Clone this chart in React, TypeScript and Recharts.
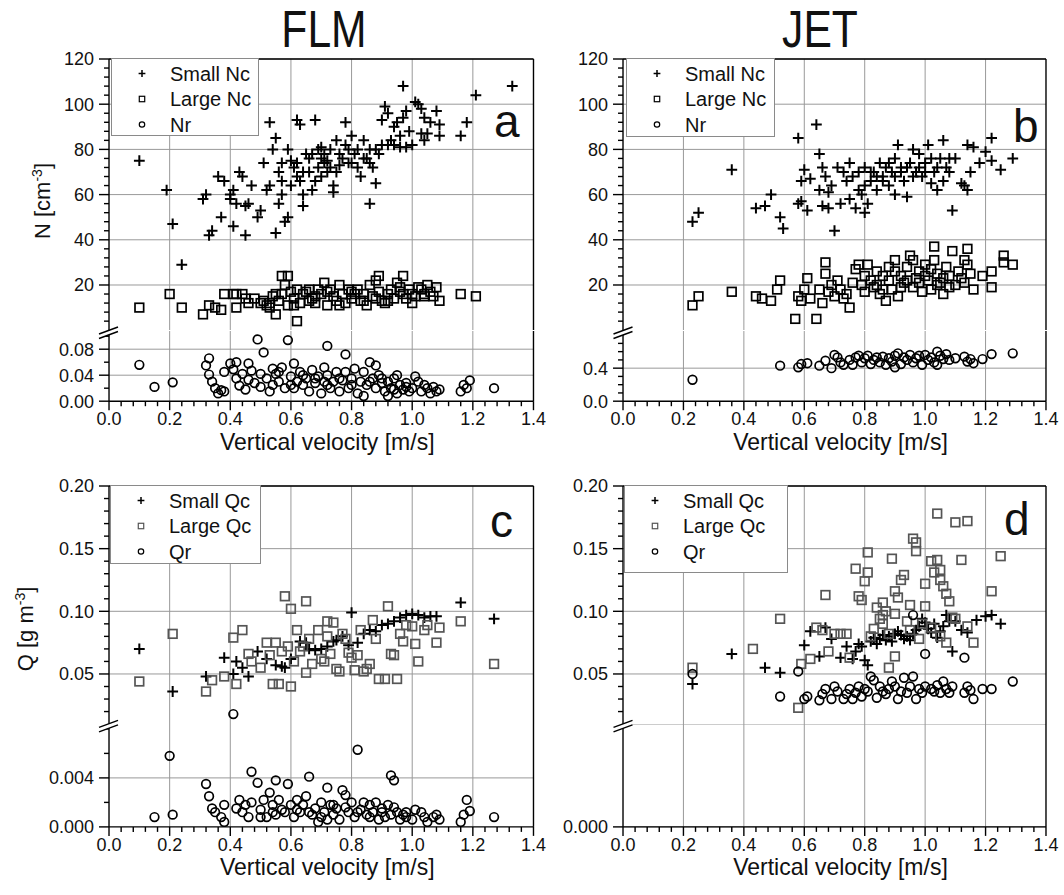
import React from 'react';
import { ScatterChart, Scatter, XAxis, YAxis, CartesianGrid, ReferenceLine, Legend } from 'recharts';

const FONT = '"Liberation Sans", Arial, sans-serif';

// ---------- data: FLM (left column) ----------
const flmSmallNc: [number, number][] = [
  [0.10, 75], [0.19, 62], [0.21, 47], [0.24, 29], [0.31, 58], [0.32, 60], [0.33, 42], [0.34, 44], [0.37, 50],
  [0.36, 68], [0.38, 66], [0.40, 60], [0.41, 62], [0.41, 46], [0.40, 58], [0.42, 56], [0.43, 70], [0.44, 68],
  [0.45, 55], [0.46, 56], [0.47, 64], [0.45, 42], [0.49, 50], [0.50, 53], [0.51, 74], [0.52, 62], [0.53, 64],
  [0.53, 92], [0.54, 80], [0.55, 85], [0.55, 43], [0.56, 56], [0.57, 60], [0.56, 70], [0.57, 74], [0.58, 48],
  [0.59, 50], [0.59, 80], [0.60, 75], [0.61, 72], [0.62, 93], [0.63, 91], [0.62, 68], [0.63, 66], [0.64, 60],
  [0.64, 55], [0.65, 78], [0.66, 76], [0.67, 62], [0.68, 93], [0.68, 66], [0.69, 72], [0.70, 81], [0.71, 78],
  [0.72, 70], [0.72, 75], [0.73, 80], [0.74, 64], [0.74, 61], [0.75, 84], [0.76, 78], [0.77, 76], [0.78, 92],
  [0.79, 80], [0.80, 74], [0.80, 86], [0.81, 78], [0.82, 72], [0.83, 68], [0.84, 84], [0.85, 76], [0.86, 80],
  [0.86, 56], [0.87, 72], [0.88, 65], [0.89, 78], [0.90, 93], [0.91, 99], [0.92, 96], [0.93, 84], [0.94, 90],
  [0.95, 92], [0.96, 86], [0.97, 108], [0.97, 94], [0.98, 97], [0.99, 88], [1.00, 82], [1.01, 101], [1.02, 100],
  [1.03, 98], [1.04, 94], [1.03, 87], [1.04, 84], [1.05, 87], [1.06, 92], [1.08, 97], [1.09, 91], [1.09, 86],
  [1.16, 86], [1.18, 92], [1.21, 104], [1.33, 108], [0.66, 70], [0.70, 68], [0.71, 74], [0.73, 72], [0.75, 70],
  [0.76, 73], [0.78, 82], [0.79, 74], [0.82, 80], [0.84, 76], [0.86, 74], [0.88, 80], [0.90, 82], [0.92, 82],
  [0.94, 82], [0.96, 81], [0.98, 81], [0.57, 66], [0.60, 64], [0.62, 74], [0.64, 70], [0.67, 78], [0.69, 80],
  [0.70, 76],
];
const flmLargeNc: [number, number][] = [
  [0.10, 10], [0.20, 16], [0.24, 10], [0.31, 7], [0.33, 11], [0.35, 10], [0.37, 9], [0.38, 16], [0.41, 16],
  [0.42, 16], [0.42, 10], [0.44, 16], [0.45, 14], [0.46, 12], [0.48, 14], [0.50, 12], [0.51, 13], [0.52, 11],
  [0.53, 12], [0.54, 15], [0.55, 16], [0.55, 7], [0.56, 13], [0.57, 24], [0.58, 20], [0.59, 24], [0.59, 11],
  [0.60, 17], [0.61, 14], [0.62, 4], [0.62, 18], [0.63, 12], [0.64, 16], [0.65, 17], [0.66, 13], [0.67, 14],
  [0.68, 12], [0.69, 18], [0.70, 16], [0.71, 21], [0.72, 11], [0.73, 18], [0.74, 15], [0.75, 13], [0.76, 20],
  [0.77, 16], [0.78, 12], [0.79, 18], [0.80, 14], [0.81, 16], [0.82, 18], [0.83, 13], [0.84, 16], [0.85, 11],
  [0.86, 20], [0.87, 15], [0.88, 22], [0.89, 24], [0.89, 17], [0.90, 13], [0.91, 12], [0.92, 16], [0.93, 18],
  [0.94, 14], [0.95, 21], [0.96, 17], [0.97, 24], [0.97, 16], [0.98, 14], [0.99, 18], [1.00, 12], [1.01, 15],
  [1.02, 19], [1.03, 18], [1.04, 16], [1.05, 20], [1.06, 17], [1.07, 15], [1.08, 19], [1.09, 13], [1.16, 16],
  [1.21, 15], [0.53, 10], [0.57, 16], [0.61, 11], [0.66, 18], [0.68, 15], [0.72, 17], [0.76, 11], [0.80, 17],
  [0.84, 13], [0.88, 14], [0.92, 13], [0.96, 19], [1.00, 16], [1.04, 15],
];
const flmNr: [number, number][] = [
  [0.10, 0.056], [0.15, 0.022], [0.21, 0.029], [0.32, 0.055], [0.33, 0.066], [0.33, 0.041], [0.34, 0.030],
  [0.35, 0.020], [0.36, 0.012], [0.37, 0.017], [0.38, 0.045], [0.38, 0.015], [0.40, 0.058], [0.41, 0.049],
  [0.42, 0.060], [0.42, 0.035], [0.43, 0.024], [0.44, 0.042], [0.45, 0.018], [0.46, 0.058], [0.46, 0.033],
  [0.47, 0.047], [0.48, 0.028], [0.49, 0.095], [0.50, 0.042], [0.50, 0.022], [0.51, 0.075], [0.52, 0.035],
  [0.53, 0.015], [0.54, 0.050], [0.54, 0.025], [0.55, 0.042], [0.56, 0.030], [0.57, 0.052], [0.58, 0.020],
  [0.59, 0.094], [0.60, 0.038], [0.61, 0.058], [0.61, 0.020], [0.62, 0.030], [0.63, 0.045], [0.64, 0.025],
  [0.65, 0.035], [0.66, 0.015], [0.67, 0.048], [0.68, 0.028], [0.69, 0.038], [0.70, 0.012], [0.71, 0.052],
  [0.71, 0.030], [0.72, 0.085], [0.72, 0.040], [0.73, 0.020], [0.74, 0.030], [0.75, 0.045], [0.76, 0.015],
  [0.77, 0.032], [0.78, 0.045], [0.78, 0.072], [0.79, 0.020], [0.80, 0.035], [0.81, 0.050], [0.82, 0.012],
  [0.83, 0.030], [0.84, 0.045], [0.84, 0.008], [0.85, 0.025], [0.86, 0.060], [0.87, 0.035], [0.88, 0.055],
  [0.88, 0.020], [0.89, 0.040], [0.90, 0.028], [0.91, 0.015], [0.92, 0.030], [0.92, 0.008], [0.93, 0.020],
  [0.94, 0.035], [0.95, 0.040], [0.95, 0.012], [0.96, 0.025], [0.97, 0.018], [0.98, 0.028], [0.99, 0.015],
  [1.00, 0.020], [1.01, 0.038], [1.02, 0.030], [1.03, 0.015], [1.04, 0.025], [1.05, 0.020], [1.06, 0.012],
  [1.07, 0.022], [1.08, 0.015], [1.09, 0.018], [1.16, 0.015], [1.17, 0.025], [1.18, 0.020], [1.19, 0.032],
  [1.27, 0.020], [0.56, 0.045], [0.60, 0.025], [0.64, 0.040], [0.68, 0.035], [0.72, 0.025], [0.76, 0.035],
  [0.80, 0.025], [0.86, 0.030], [0.90, 0.035], [0.94, 0.018], [0.98, 0.022],
];
const flmSmallQc: [number, number][] = [
  [0.10, 0.070], [0.21, 0.036], [0.32, 0.048], [0.38, 0.063], [0.41, 0.050], [0.42, 0.060], [0.44, 0.055],
  [0.46, 0.048], [0.49, 0.068], [0.52, 0.062], [0.55, 0.057], [0.57, 0.056], [0.58, 0.055], [0.60, 0.062],
  [0.63, 0.076], [0.65, 0.075], [0.66, 0.070], [0.68, 0.069], [0.70, 0.070], [0.72, 0.072], [0.74, 0.076],
  [0.75, 0.077], [0.77, 0.080], [0.79, 0.073], [0.80, 0.099], [0.82, 0.075], [0.84, 0.082], [0.86, 0.085],
  [0.88, 0.084], [0.90, 0.089], [0.92, 0.090], [0.94, 0.092], [0.96, 0.095], [0.98, 0.097], [1.00, 0.098],
  [1.02, 0.097], [1.04, 0.095], [1.06, 0.096], [1.08, 0.096], [1.16, 0.107], [1.27, 0.094],
];
const flmLargeQc: [number, number][] = [
  [0.10, 0.044], [0.21, 0.082], [0.32, 0.036], [0.34, 0.045], [0.38, 0.048], [0.41, 0.079], [0.42, 0.042],
  [0.44, 0.085], [0.46, 0.066], [0.47, 0.060], [0.50, 0.055], [0.52, 0.075], [0.53, 0.065], [0.54, 0.042],
  [0.55, 0.075], [0.56, 0.042], [0.57, 0.068], [0.58, 0.112], [0.59, 0.072], [0.60, 0.102], [0.60, 0.040],
  [0.61, 0.060], [0.62, 0.085], [0.63, 0.068], [0.64, 0.072], [0.65, 0.108], [0.65, 0.051], [0.66, 0.078],
  [0.67, 0.058], [0.69, 0.085], [0.70, 0.062], [0.71, 0.060], [0.72, 0.092], [0.72, 0.080], [0.73, 0.066],
  [0.74, 0.091], [0.75, 0.054], [0.76, 0.052], [0.77, 0.082], [0.78, 0.078], [0.79, 0.067], [0.80, 0.063],
  [0.81, 0.053], [0.82, 0.065], [0.83, 0.085], [0.84, 0.052], [0.85, 0.054], [0.86, 0.058], [0.87, 0.093],
  [0.88, 0.078], [0.89, 0.046], [0.91, 0.046], [0.92, 0.104], [0.93, 0.066], [0.94, 0.065], [0.95, 0.046],
  [0.96, 0.082], [0.97, 0.076], [0.98, 0.089], [1.00, 0.088], [1.01, 0.074], [1.02, 0.060], [1.04, 0.085],
  [1.05, 0.089], [1.08, 0.075], [1.09, 0.087], [1.16, 0.092], [1.27, 0.058],
];
const flmQr: [number, number][] = [
  [0.15, 0.0008], [0.20, 0.0058], [0.21, 0.0010], [0.32, 0.0035], [0.33, 0.0025], [0.34, 0.0015], [0.35, 0.0012],
  [0.37, 0.0008], [0.38, 0.0018], [0.38, 0.0004], [0.41, 0.018], [0.42, 0.0015], [0.43, 0.0022], [0.44, 0.0012],
  [0.45, 0.0018], [0.46, 0.0008], [0.47, 0.0045], [0.47, 0.0020], [0.49, 0.0036], [0.50, 0.0014], [0.51, 0.0022],
  [0.52, 0.0008], [0.53, 0.0028], [0.54, 0.0018], [0.55, 0.0038], [0.55, 0.0010], [0.56, 0.0022], [0.57, 0.0014],
  [0.59, 0.0035], [0.60, 0.0018], [0.61, 0.0008], [0.62, 0.0022], [0.63, 0.0012], [0.64, 0.0018], [0.65, 0.0025],
  [0.66, 0.0041], [0.67, 0.0010], [0.68, 0.0015], [0.69, 0.0004], [0.70, 0.0020], [0.71, 0.0012], [0.72, 0.0032],
  [0.72, 0.0006], [0.73, 0.0018], [0.74, 0.0010], [0.75, 0.0015], [0.76, 0.0006], [0.77, 0.0030], [0.78, 0.0026],
  [0.79, 0.0012], [0.80, 0.0020], [0.81, 0.0008], [0.82, 0.0063], [0.83, 0.0014], [0.84, 0.0020], [0.85, 0.0010],
  [0.86, 0.0018], [0.87, 0.0012], [0.88, 0.0020], [0.89, 0.0006], [0.90, 0.0015], [0.91, 0.0008], [0.92, 0.0018],
  [0.93, 0.0042], [0.93, 0.0010], [0.94, 0.0038], [0.95, 0.0012], [0.96, 0.0006], [0.97, 0.0010], [0.98, 0.0008],
  [1.00, 0.0006], [1.01, 0.0014], [1.03, 0.0012], [1.04, 0.0008], [1.05, 0.0004], [1.07, 0.0008], [1.08, 0.0010],
  [1.09, 0.0006], [1.16, 0.0004], [1.17, 0.0010], [1.18, 0.0022], [1.19, 0.0013], [1.27, 0.0008], [0.58, 0.0012],
  [0.62, 0.0014], [0.66, 0.0012], [0.70, 0.0008], [0.74, 0.0018], [0.78, 0.0016], [0.82, 0.0012], [0.86, 0.0008],
  [0.90, 0.0012], [0.94, 0.0016], [0.98, 0.0012], [0.50, 0.0008], [0.54, 0.0012],
];

// ---------- data: JET (right column) ----------
const jetSmallNc: [number, number][] = [
  [0.23, 48], [0.25, 52], [0.36, 71], [0.44, 54], [0.47, 55], [0.49, 60], [0.52, 50], [0.53, 45], [0.58, 85],
  [0.58, 56], [0.59, 66], [0.59, 57], [0.60, 71], [0.61, 53], [0.62, 67], [0.64, 91], [0.65, 78], [0.65, 62],
  [0.66, 55], [0.66, 72], [0.67, 68], [0.68, 54], [0.68, 61], [0.69, 64], [0.70, 44], [0.71, 72], [0.72, 56],
  [0.73, 70], [0.74, 66], [0.75, 74], [0.75, 58], [0.76, 68], [0.77, 54], [0.78, 62], [0.79, 60], [0.80, 52],
  [0.80, 72], [0.81, 56], [0.82, 66], [0.83, 70], [0.84, 62], [0.85, 74], [0.86, 68], [0.87, 72], [0.88, 64],
  [0.89, 70], [0.90, 60], [0.90, 76], [0.91, 82], [0.92, 72], [0.93, 66], [0.94, 59], [0.95, 74], [0.96, 80],
  [0.97, 70], [0.98, 78], [0.99, 68], [1.00, 74], [1.01, 82], [1.02, 65], [1.03, 70], [1.04, 62], [1.05, 76],
  [1.06, 84], [1.07, 72], [1.08, 70], [1.09, 53], [1.10, 76], [1.12, 65], [1.13, 64], [1.14, 82], [1.14, 62],
  [1.15, 70], [1.16, 81], [1.18, 74], [1.20, 79], [1.22, 85], [1.22, 75], [1.25, 71], [1.29, 76], [0.86, 66],
  [0.88, 74], [0.90, 68], [0.92, 70], [0.94, 72], [0.96, 68], [0.98, 72], [1.00, 70], [1.02, 76], [1.04, 72],
  [1.06, 66], [1.08, 76], [0.82, 70], [0.84, 68], [0.80, 64], [0.78, 70],
];
const jetLargeNc: [number, number][] = [
  [0.23, 11], [0.25, 15], [0.36, 17], [0.44, 15], [0.46, 14], [0.49, 13], [0.51, 18], [0.52, 22], [0.57, 5],
  [0.58, 15], [0.59, 13], [0.60, 18], [0.61, 23], [0.62, 14], [0.64, 5], [0.65, 18], [0.66, 12], [0.67, 25],
  [0.67, 30], [0.68, 17], [0.69, 20], [0.70, 15], [0.71, 22], [0.72, 18], [0.73, 14], [0.74, 16], [0.75, 10],
  [0.76, 21], [0.77, 27], [0.78, 29], [0.79, 20], [0.80, 24], [0.80, 17], [0.81, 29], [0.82, 22], [0.83, 19],
  [0.84, 26], [0.85, 16], [0.86, 24], [0.87, 13], [0.88, 22], [0.89, 18], [0.90, 26], [0.90, 31], [0.91, 15],
  [0.92, 24], [0.93, 21], [0.94, 28], [0.95, 33], [0.96, 31], [0.96, 19], [0.97, 23], [0.98, 26], [0.99, 17],
  [1.00, 29], [1.01, 22], [1.02, 18], [1.03, 37], [1.03, 31], [1.04, 25], [1.05, 21], [1.06, 16], [1.07, 28],
  [1.08, 24], [1.09, 35], [1.10, 20], [1.11, 26], [1.13, 31], [1.13, 21], [1.14, 36], [1.14, 29], [1.15, 25],
  [1.16, 18], [1.19, 24], [1.22, 26], [1.22, 19], [1.26, 30], [1.26, 33], [1.29, 29], [0.84, 20], [0.86, 18],
  [0.88, 28], [0.92, 19], [0.94, 22], [0.98, 21], [1.00, 24], [1.02, 27], [1.04, 20], [1.06, 23], [1.08, 19],
  [1.12, 23],
];
const jetNr: [number, number][] = [
  [0.23, 0.26], [0.52, 0.43], [0.58, 0.41], [0.59, 0.45], [0.61, 0.46], [0.65, 0.43], [0.67, 0.49], [0.69, 0.40],
  [0.70, 0.56], [0.71, 0.53], [0.72, 0.47], [0.73, 0.44], [0.75, 0.50], [0.76, 0.44], [0.77, 0.53], [0.78, 0.55],
  [0.79, 0.47], [0.80, 0.52], [0.81, 0.55], [0.82, 0.45], [0.83, 0.50], [0.84, 0.53], [0.85, 0.47], [0.86, 0.54],
  [0.87, 0.44], [0.88, 0.52], [0.89, 0.48], [0.90, 0.41], [0.90, 0.55], [0.91, 0.58], [0.92, 0.45], [0.93, 0.53],
  [0.94, 0.50], [0.95, 0.56], [0.96, 0.47], [0.97, 0.52], [0.98, 0.55], [0.99, 0.44], [1.00, 0.56], [1.01, 0.50],
  [1.02, 0.53], [1.03, 0.47], [1.04, 0.60], [1.04, 0.44], [1.05, 0.55], [1.06, 0.51], [1.07, 0.57], [1.08, 0.50],
  [1.10, 0.52], [1.13, 0.54], [1.14, 0.48], [1.15, 0.51], [1.16, 0.46], [1.19, 0.51], [1.22, 0.57], [1.29, 0.58],
];
const jetSmallQc: [number, number][] = [
  [0.23, 0.042], [0.36, 0.066], [0.47, 0.055], [0.52, 0.051], [0.60, 0.073], [0.62, 0.084], [0.65, 0.064],
  [0.67, 0.087], [0.69, 0.078], [0.72, 0.063], [0.74, 0.072], [0.76, 0.062], [0.77, 0.068], [0.78, 0.074],
  [0.79, 0.072], [0.80, 0.061], [0.81, 0.057], [0.82, 0.076], [0.83, 0.079], [0.84, 0.074], [0.85, 0.078],
  [0.86, 0.081], [0.87, 0.077], [0.88, 0.080], [0.89, 0.076], [0.90, 0.082], [0.91, 0.084], [0.92, 0.081],
  [0.93, 0.078], [0.94, 0.080], [0.95, 0.077], [0.96, 0.082], [0.97, 0.085], [0.98, 0.088], [0.99, 0.094],
  [1.00, 0.091], [1.01, 0.086], [1.02, 0.083], [1.03, 0.090], [1.04, 0.079], [1.05, 0.084], [1.06, 0.088],
  [1.07, 0.097], [1.08, 0.092], [1.09, 0.068], [1.10, 0.092], [1.12, 0.085], [1.14, 0.083], [1.17, 0.093],
  [1.20, 0.096], [1.22, 0.097], [1.25, 0.090],
];
const jetLargeQc: [number, number][] = [
  [0.23, 0.055], [0.43, 0.070], [0.52, 0.094], [0.58, 0.023], [0.59, 0.058], [0.62, 0.062], [0.64, 0.087],
  [0.66, 0.085], [0.67, 0.113], [0.68, 0.068], [0.70, 0.082], [0.72, 0.082], [0.74, 0.082], [0.75, 0.063],
  [0.77, 0.134], [0.78, 0.112], [0.79, 0.109], [0.80, 0.124], [0.81, 0.147], [0.81, 0.131], [0.83, 0.086],
  [0.84, 0.103], [0.85, 0.094], [0.86, 0.107], [0.87, 0.100], [0.88, 0.055], [0.89, 0.142], [0.90, 0.116],
  [0.90, 0.064], [0.91, 0.111], [0.92, 0.125], [0.93, 0.129], [0.94, 0.092], [0.95, 0.105], [0.96, 0.158],
  [0.97, 0.155], [0.97, 0.148], [0.98, 0.078], [0.99, 0.090], [1.00, 0.104], [1.00, 0.122], [1.02, 0.140],
  [1.03, 0.131], [1.04, 0.178], [1.04, 0.141], [1.05, 0.133], [1.05, 0.125], [1.06, 0.120], [1.07, 0.114],
  [1.08, 0.108], [1.07, 0.075], [1.09, 0.095], [1.10, 0.094], [1.10, 0.171], [1.12, 0.141], [1.14, 0.172],
  [1.14, 0.088], [1.16, 0.075], [1.22, 0.116], [1.25, 0.144], [0.86, 0.090], [0.90, 0.098], [0.95, 0.085],
  [1.02, 0.087], [1.05, 0.080], [0.88, 0.082], [0.82, 0.080], [0.86, 0.097],
];
const jetQr: [number, number][] = [
  [0.23, 0.050], [0.52, 0.032], [0.58, 0.052], [0.60, 0.030], [0.61, 0.032], [0.65, 0.029], [0.66, 0.034],
  [0.67, 0.038], [0.69, 0.030], [0.70, 0.040], [0.71, 0.036], [0.73, 0.030], [0.74, 0.034], [0.75, 0.038],
  [0.76, 0.030], [0.77, 0.035], [0.78, 0.040], [0.79, 0.032], [0.80, 0.038], [0.81, 0.036], [0.82, 0.048],
  [0.83, 0.045], [0.84, 0.031], [0.85, 0.040], [0.86, 0.036], [0.87, 0.034], [0.88, 0.038], [0.89, 0.044],
  [0.90, 0.040], [0.91, 0.030], [0.92, 0.036], [0.93, 0.047], [0.94, 0.035], [0.95, 0.040], [0.96, 0.048],
  [0.96, 0.097], [0.97, 0.030], [0.98, 0.038], [0.99, 0.035], [1.00, 0.066], [1.00, 0.040], [1.02, 0.038],
  [1.03, 0.036], [1.04, 0.041], [1.05, 0.035], [1.06, 0.044], [1.07, 0.038], [1.08, 0.035], [1.09, 0.040],
  [1.13, 0.063], [1.13, 0.035], [1.14, 0.040], [1.15, 0.037], [1.16, 0.030], [1.19, 0.038], [1.22, 0.038],
  [1.29, 0.044],
];

// ---------- ticks ----------
const xTicks = [0, 0.04, 0.08, 0.12, 0.16, 0.2, 0.24, 0.28, 0.32, 0.36, 0.4, 0.44, 0.48, 0.52, 0.56, 0.6, 0.64,
  0.68, 0.72, 0.76, 0.8, 0.84, 0.88, 0.92, 0.96, 1, 1.04, 1.08, 1.12, 1.16, 1.2, 1.24, 1.28, 1.32, 1.36, 1.4];
const xMajor = [0, 0.2, 0.4, 0.6, 0.8, 1, 1.2, 1.4];
const xGrid = [0.2, 0.4, 0.6, 0.8, 1, 1.2];

const nUpperTicks = [4, 8, 12, 16, 20, 24, 28, 32, 36, 40, 44, 48, 52, 56, 60, 64, 68, 72, 76, 80, 84, 88, 92,
  96, 100, 104, 108, 112, 116, 120];
const nUpperMajor = [20, 40, 60, 80, 100, 120];
const nrFlmTicks = [0, 0.02, 0.04, 0.06, 0.08, 0.1];
const nrFlmMajor = [0, 0.04, 0.08];
const nrJetTicks = [0, 0.1, 0.2, 0.3, 0.4, 0.5, 0.6, 0.7, 0.8];
const nrJetMajor = [0, 0.4];
const qUpperTicks = [0.02, 0.03, 0.04, 0.05, 0.06, 0.07, 0.08, 0.09, 0.1, 0.11, 0.12, 0.13, 0.14, 0.15, 0.16,
  0.17, 0.18, 0.19, 0.2];
const qUpperMajor = [0.05, 0.1, 0.15, 0.2];
const qrFlmTicks = [0, 0.002, 0.004, 0.006, 0.008];
const qrFlmMajor = [0, 0.004];
const qrJetTicks = [0];
const qrJetMajor = [0];

type Kind = 'plus' | 'square' | 'circle';
interface SeriesDef { name: string; data: [number, number][]; kind: Kind; color: string }
interface Box { L: number; R: number; top: number; yb: number; bottom: number }
interface AxisDef { domain: [number, number]; ticks: number[]; major: number[]; digits: number }
interface PanelDef {
  letter: string; box: Box; series: SeriesDef[]; upper: AxisDef; lower: AxisDef;
  legend: { left: number; top: number; w: number; h: number };
  letterPos: [number, number];
}

const panels: PanelDef[] = [
  {
    letter: 'a', box: { L: 108.5, R: 533, top: 59.3, yb: 330.5, bottom: 400.7 },
    series: [
      { name: 'Small Nc', data: flmSmallNc, kind: 'plus', color: '#000' },
      { name: 'Large Nc', data: flmLargeNc, kind: 'square', color: '#000' },
      { name: 'Nr', data: flmNr, kind: 'circle', color: '#000' },
    ],
    upper: { domain: [0, 120], ticks: nUpperTicks, major: nUpperMajor, digits: 0 },
    lower: { domain: [0, 0.108], ticks: nrFlmTicks, major: nrFlmMajor, digits: 2 },
    legend: { left: 111, top: 58.5, w: 148, h: 78 },
    letterPos: [494, 137],
  },
  {
    letter: 'b', box: { L: 623, R: 1046, top: 59.3, yb: 330.5, bottom: 400.7 },
    series: [
      { name: 'Small Nc', data: jetSmallNc, kind: 'plus', color: '#000' },
      { name: 'Large Nc', data: jetLargeNc, kind: 'square', color: '#000' },
      { name: 'Nr', data: jetNr, kind: 'circle', color: '#000' },
    ],
    upper: { domain: [0, 120], ticks: nUpperTicks, major: nUpperMajor, digits: 0 },
    lower: { domain: [0, 0.85], ticks: nrJetTicks, major: nrJetMajor, digits: 1 },
    legend: { left: 626, top: 58.5, w: 148.5, h: 79 },
    letterPos: [1013, 141.5],
  },
  {
    letter: 'c', box: { L: 108.5, R: 533, top: 485.7, yb: 723.8, bottom: 826.7 },
    series: [
      { name: 'Small Qc', data: flmSmallQc, kind: 'plus', color: '#000' },
      { name: 'Large Qc', data: flmLargeQc, kind: 'square', color: '#555' },
      { name: 'Qr', data: flmQr, kind: 'circle', color: '#000' },
    ],
    upper: { domain: [0.01, 0.2], ticks: qUpperTicks, major: qUpperMajor, digits: 2 },
    lower: { domain: [0, 0.0084], ticks: qrFlmTicks, major: qrFlmMajor, digits: 3 },
    legend: { left: 109.5, top: 485.2, w: 151, h: 79 },
    letterPos: [490, 537],
  },
  {
    letter: 'd', box: { L: 623, R: 1046, top: 485.7, yb: 723.8, bottom: 826.7 },
    series: [
      { name: 'Small Qc', data: jetSmallQc, kind: 'plus', color: '#000' },
      { name: 'Large Qc', data: jetLargeQc, kind: 'square', color: '#555' },
      { name: 'Qr', data: jetQr, kind: 'circle', color: '#000' },
    ],
    upper: { domain: [0.01, 0.2], ticks: qUpperTicks, major: qUpperMajor, digits: 2 },
    lower: { domain: [0, 0.0084], ticks: qrJetTicks, major: qrJetMajor, digits: 3 },
    legend: { left: 623.6, top: 485.2, w: 164, h: 88 },
    letterPos: [1004, 535],
  },
];

const AXW = 80;   // y-axis area width
const RM = 24;    // right margin
const TM = 12;    // top margin of upper chart
const XH = 64;    // x-axis area height

const isMajor = (v: number, list: number[]) => list.some(m => Math.abs(m - v) < 1e-9);

function Marker({ cx, cy, kind, color, s, w }: { cx: number; cy: number; kind: Kind; color: string; s: number; w: number }) {
  if (kind === 'plus') {
    return <path d={`M${cx - s},${cy}H${cx + s}M${cx},${cy - s}V${cy + s}`} stroke={color} strokeWidth={w + 0.3} fill="none" />;
  }
  if (kind === 'square') {
    const h = s * 0.8;
    return <rect x={cx - h} y={cy - h} width={2 * h} height={2 * h} stroke={color} strokeWidth={w} fill="none" />;
  }
  return <circle cx={cx} cy={cy} r={s * 0.8} stroke={color} strokeWidth={w} fill="none" />;
}

const XTick = (p: any) => {
  const v = p.payload.value;
  const major = isMajor(v, xMajor);
  return (
    <g>
      <line x1={p.x} y1={p.y} x2={p.x} y2={p.y + (major ? 9 : 5)} stroke="#000" strokeWidth={1.4} />
      {major && (
        <text x={p.x} y={p.y + 24} textAnchor="middle" fontSize={18} fontFamily={FONT} fill="#111">
          {v.toFixed(1)}
        </text>
      )}
    </g>
  );
};

const makeYTick = (ax: AxisDef) => (p: any) => {
  const v = p.payload.value;
  const major = isMajor(v, ax.major);
  return (
    <g>
      <line x1={p.x - (major ? 10 : 5)} y1={p.y} x2={p.x} y2={p.y} stroke="#000" strokeWidth={1.4} />
      {major && (
        <text x={p.x - 15} y={p.y + 6.5} textAnchor="end" fontSize={18} fontFamily={FONT} fill="#111">
          {v.toFixed(ax.digits)}
        </text>
      )}
    </g>
  );
};

const LegendBox = ({ series, w, h }: { series: SeriesDef[]; w: number; h: number }) => (
  <svg width={w} height={h} style={{ display: 'block' }}>
    {series.map((s, i) => {
      const cy = 14.5 + i * 25.5;
      return (
        <g key={s.name}>
          <Marker cx={30} cy={cy} kind={s.kind} color={s.color} s={3.4} w={1.2} />
          <text x={58} y={cy + 7} fontSize={20} fontFamily={FONT} fill="#111">{s.name}</text>
        </g>
      );
    })}
  </svg>
);

function Panel({ p }: { p: PanelDef }) {
  const { L, R, top, yb, bottom } = p.box;
  const width = AXW + (R - L) + RM;
  const upH = TM + (yb - top);
  const loH = (bottom - yb) + XH;
  const lowMax = p.lower.domain[1];
  // upper segment takes only the values above the break; the lower one clips everything to its own range
  const upperData = p.series.map(s => s.data.filter(d => d[1] > lowMax).map(([x, y]) => ({ x, y })));
  const lowerData = p.series.map(s => s.data.map(([x, y]) => ({ x, y })));
  const upGrid = p.upper.major;
  const loGrid = p.lower.major.filter(v => v > 0);

  return (
    <>
      <div style={{ position: 'absolute', left: L - AXW, top: top - TM, width, height: upH }}>
        <ScatterChart width={width} height={upH} margin={{ top: TM, right: RM, bottom: 0, left: 0 }} style={{ overflow: 'visible' }}>
          <CartesianGrid horizontalValues={upGrid} verticalValues={xGrid} stroke="#999" strokeWidth={1} />
          <XAxis type="number" dataKey="x" domain={[0, 1.4]} ticks={xTicks} hide />
          <YAxis type="number" dataKey="y" domain={p.upper.domain} ticks={p.upper.ticks} interval={0}
            width={AXW} tickSize={0} tickMargin={0} tickLine={false} tick={makeYTick(p.upper)}
            axisLine={{ stroke: '#000', strokeWidth: 1.4 }} />
          <ReferenceLine y={p.upper.domain[1]} stroke="#000" strokeWidth={1.4} />
          <ReferenceLine x={1.4} stroke="#000" strokeWidth={1.4} />
          {p.series.map((s, i) => (
            <Scatter key={s.name} name={s.name} data={upperData[i]} isAnimationActive={false}
              shape={(sp: any) => <Marker cx={sp.cx} cy={sp.cy} kind={s.kind} color={s.color} s={5.4} w={1.7} />} />
          ))}
          <Legend layout="vertical" align="center" verticalAlign="middle"
            wrapperStyle={{
              left: p.legend.left - (L - AXW), top: p.legend.top - (top - TM), width: p.legend.w, height: p.legend.h,
              background: '#fff', border: '1px solid #8a8a8a', boxSizing: 'border-box', margin: 0,
            }}
            content={() => <LegendBox series={p.series} w={p.legend.w - 2} h={p.legend.h - 2} />} />
        </ScatterChart>
      </div>
      <div style={{ position: 'absolute', left: L - AXW, top: yb, width, height: loH }}>
        <ScatterChart width={width} height={loH} margin={{ top: 0, right: RM, bottom: 0, left: 0 }} style={{ overflow: 'visible' }}>
          <CartesianGrid horizontalValues={loGrid} verticalValues={xGrid} stroke="#999" strokeWidth={1} />
          <XAxis type="number" dataKey="x" domain={[0, 1.4]} ticks={xTicks} interval={0} height={XH}
            tickSize={0} tickMargin={0} tickLine={false} tick={XTick}
            axisLine={{ stroke: '#000', strokeWidth: 1.4 }}
            label={{ value: 'Vertical velocity [m/s]', position: 'insideTop', offset: 32, dx: 6, fontSize: 23, fontFamily: FONT, fill: '#111' }} />
          <YAxis type="number" dataKey="y" domain={p.lower.domain} allowDataOverflow ticks={p.lower.ticks} interval={0}
            width={AXW} tickSize={0} tickMargin={0} tickLine={false} tick={makeYTick(p.lower)}
            axisLine={{ stroke: '#000', strokeWidth: 1.4 }} />
          <ReferenceLine x={1.4} stroke="#000" strokeWidth={1.4} />
          {p.series.map((s, i) => (
            <Scatter key={s.name} name={s.name} data={lowerData[i]} isAnimationActive={false}
              shape={(sp: any) => <Marker cx={sp.cx} cy={sp.cy} kind={s.kind} color={s.color} s={5.4} w={1.7} />} />
          ))}
        </ScatterChart>
      </div>
    </>
  );
}

function BreakMark({ x, y }: { x: number; y: number }) {
  const a = `M${x - 9.5},${y + 3.5} L${x + 9.5},${y - 3.5}`;
  const b = `M${x - 9.5},${y + 8} L${x + 9.5},${y + 1}`;
  return (
    <g>
      <polygon points={`${x - 9.5},${y + 3.5} ${x + 9.5},${y - 3.5} ${x + 9.5},${y + 1} ${x - 9.5},${y + 8}`} fill="#fff" />
      <path d={a} stroke="#000" strokeWidth={1.4} />
      <path d={b} stroke="#000" strokeWidth={1.4} />
    </g>
  );
}

export default function App() {
  return (
    <div style={{ position: 'absolute', left: 0, top: 0, width: 1064, height: 895, background: '#fff', fontFamily: FONT }}>
      {panels.map(p => <Panel key={p.letter} p={p} />)}
      <svg width={1064} height={895} style={{ position: 'absolute', left: 0, top: 0, pointerEvents: 'none', zIndex: 5 }}>
        <text x={324} y={47} textAnchor="middle" fontSize={52} fontFamily={FONT} fill="#111"
          transform="translate(324,0) scale(0.82,1) translate(-324,0)">FLM</text>
        <text x={820} y={47} textAnchor="middle" fontSize={52} fontFamily={FONT} fill="#111"
          transform="translate(820,0) scale(0.82,1) translate(-820,0)">JET</text>
        {panels.map(p => (
          <text key={p.letter} x={p.letterPos[0]} y={p.letterPos[1]} fontSize={46} fontFamily={FONT} fill="#111">{p.letter}</text>
        ))}
        {panels.map(p => <BreakMark key={'br' + p.letter} x={p.box.L} y={p.box.yb} />)}
        <text transform="translate(50,201) rotate(-90)" textAnchor="middle" fontSize={22} fontFamily={FONT} fill="#111">
          N [cm<tspan dy={-8} fontSize={14}>-3</tspan><tspan dy={8}>]</tspan>
        </text>
        <text transform="translate(33,629) rotate(-90)" textAnchor="middle" fontSize={22} fontFamily={FONT} fill="#111">
          Q [g m<tspan dy={-8} fontSize={14}>-3</tspan><tspan dy={8}>]</tspan>
        </text>
      </svg>
    </div>
  );
}
